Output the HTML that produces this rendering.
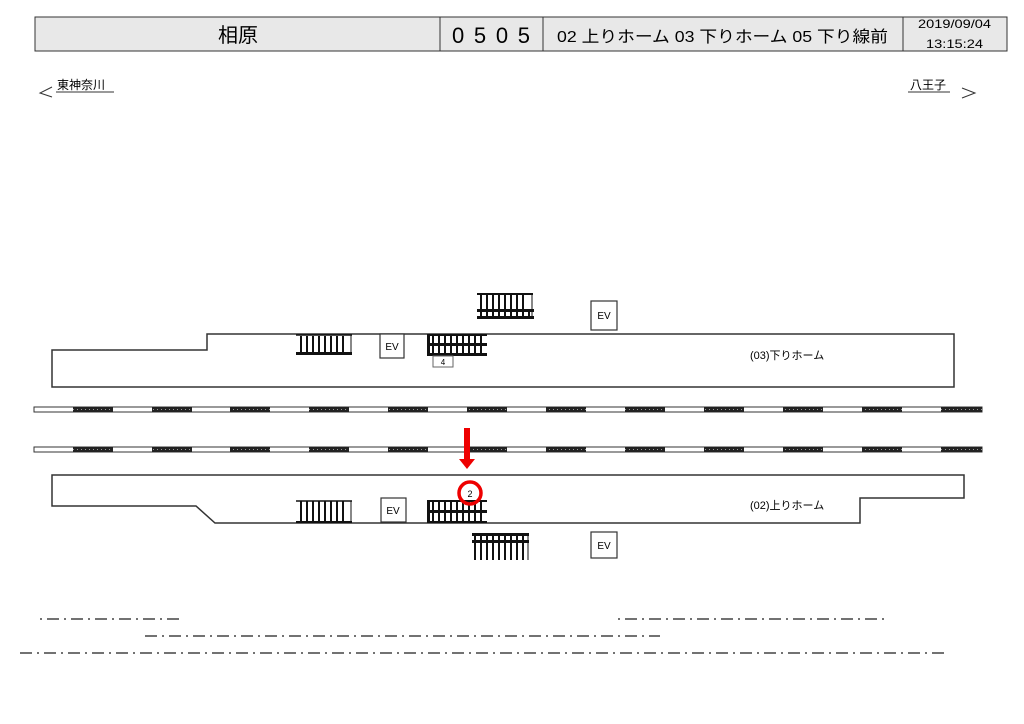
<!DOCTYPE html>
<html><head><meta charset="utf-8"><style>
body{margin:0;background:#fff;width:1024px;height:724px;overflow:hidden}
svg{display:block}
text{font-family:"Liberation Sans","Noto Sans CJK JP",sans-serif}
</style></head><body>
<svg width="1024" height="724" viewBox="0 0 1024 724" xmlns="http://www.w3.org/2000/svg">
<defs>
<pattern id="vb" x="0" y="0" width="6" height="10" patternUnits="userSpaceOnUse"><rect x="0" y="0" width="2" height="10" fill="#111"/></pattern>
<pattern id="dot" width="4" height="4" patternUnits="userSpaceOnUse"><rect width="4" height="4" fill="#222"/><rect x="1" y="1" width="1" height="1" fill="#999"/></pattern>
</defs>
<!-- header -->
<rect x="35" y="17" width="972" height="34" fill="#e8e8e8" stroke="#333" stroke-width="1"/>
<line x1="440" y1="17" x2="440" y2="51" stroke="#333"/>
<line x1="543" y1="17" x2="543" y2="51" stroke="#333"/>
<line x1="903" y1="17" x2="903" y2="51" stroke="#333"/>
<text x="238" y="42" font-size="20" text-anchor="middle">相原</text>
<text x="452" y="43" font-size="22" textLength="78" lengthAdjust="spacing">0505</text>
<text x="557" y="42" font-size="16" textLength="331" lengthAdjust="spacingAndGlyphs">02 上りホーム 03 下りホーム 05 下り線前</text>
<text x="918" y="28" font-size="12" textLength="73" lengthAdjust="spacingAndGlyphs">2019/09/04</text>
<text x="926" y="48" font-size="12" textLength="57" lengthAdjust="spacingAndGlyphs">13:15:24</text>
<!-- direction -->
<text x="57" y="89" font-size="12">東神奈川</text>
<line x1="56" y1="92" x2="114" y2="92" stroke="#333"/>
<polyline points="52,87 40,93 52,97" fill="none" stroke="#333"/>
<text x="910" y="89" font-size="12">八王子</text>
<line x1="908" y1="92" x2="950" y2="92" stroke="#333"/>
<polyline points="962,88 975,93 962,98" fill="none" stroke="#333"/>
<!-- platforms -->
<polygon points="52,350 207,350 207,334 954,334 954,387 52,387" fill="none" stroke="#333" stroke-width="1.5"/>
<polygon points="52,475 964,475 964,498 860,498 860,523 215,523 196,506 52,506" fill="none" stroke="#333" stroke-width="1.5"/>
<text x="750" y="359" font-size="11">(03)下りホーム</text>
<text x="750" y="509" font-size="11">(02)上りホーム</text>
<!-- tracks -->
<g stroke="#333" stroke-width="1">
<rect x="34" y="407" width="948" height="5" fill="#fff"/>
<rect x="34" y="447" width="948" height="5" fill="#fff"/>
</g>
<g fill="url(#dot)">
<rect x="73" y="407" width="40" height="5"/><rect x="152" y="407" width="40" height="5"/><rect x="230" y="407" width="40" height="5"/><rect x="309" y="407" width="40" height="5"/><rect x="388" y="407" width="40" height="5"/><rect x="467" y="407" width="40" height="5"/><rect x="546" y="407" width="40" height="5"/><rect x="625" y="407" width="40" height="5"/><rect x="704" y="407" width="40" height="5"/><rect x="783" y="407" width="40" height="5"/><rect x="862" y="407" width="40" height="5"/><rect x="941" y="407" width="41" height="5"/>
<rect x="73" y="447" width="40" height="5"/><rect x="152" y="447" width="40" height="5"/><rect x="230" y="447" width="40" height="5"/><rect x="309" y="447" width="40" height="5"/><rect x="388" y="447" width="40" height="5"/><rect x="467" y="447" width="40" height="5"/><rect x="546" y="447" width="40" height="5"/><rect x="625" y="447" width="40" height="5"/><rect x="704" y="447" width="40" height="5"/><rect x="783" y="447" width="40" height="5"/><rect x="862" y="447" width="40" height="5"/><rect x="941" y="447" width="41" height="5"/>
</g>
<!-- upper stairs -->
<rect x="298" y="336" width="48" height="18" fill="url(#vb)"/>
<rect x="296" y="352" width="56" height="3" fill="#111"/>
<line x1="296" y1="335" x2="352" y2="335" stroke="#111" stroke-width="1.5"/>
<line x1="351" y1="335" x2="351" y2="355" stroke="#111"/>
<rect x="479" y="294" width="48" height="16" fill="url(#vb)"/>
<line x1="477" y1="294" x2="533" y2="294" stroke="#111" stroke-width="2"/>
<line x1="532" y1="294" x2="532" y2="318" stroke="#111"/>
<rect x="477" y="309" width="57" height="3" fill="#111"/>
<rect x="479" y="311" width="52" height="5" fill="url(#vb)"/>
<rect x="477" y="316" width="57" height="3" fill="#111"/>
<!-- upper escalator -->
<rect x="427" y="334" width="3" height="22" fill="#111"/>
<rect x="430" y="336" width="56" height="20" fill="url(#vb)"/>
<rect x="427" y="334" width="60" height="2" fill="#111"/>
<rect x="427" y="343" width="60" height="3" fill="#111"/>
<rect x="427" y="353" width="60" height="3" fill="#111"/>
<rect x="433" y="356" width="20" height="11" fill="#fff" stroke="#666"/>
<text x="443" y="365" font-size="8" text-anchor="middle">4</text>
<!-- EV boxes -->
<g fill="#fff" stroke="#333" stroke-width="1.2">
<rect x="380" y="334" width="24" height="24"/>
<rect x="591" y="301" width="26" height="29"/>
<rect x="381" y="498" width="25" height="24"/>
<rect x="591" y="532" width="26" height="26"/>
</g>
<g font-size="10" text-anchor="middle">
<text x="392" y="350">EV</text><text x="604" y="319">EV</text>
<text x="393" y="514">EV</text><text x="604" y="549">EV</text>
</g>
<!-- lower stairs -->
<rect x="298" y="501" width="48" height="21" fill="url(#vb)"/>
<line x1="296" y1="501" x2="352" y2="501" stroke="#111" stroke-width="1.5"/>
<line x1="351" y1="501" x2="351" y2="523" stroke="#111"/>
<rect x="296" y="521" width="56" height="2" fill="#111"/>
<rect x="427" y="500" width="3" height="23" fill="#111"/>
<rect x="430" y="501" width="56" height="22" fill="url(#vb)"/>
<rect x="427" y="500" width="60" height="2" fill="#111"/>
<rect x="427" y="510" width="60" height="3" fill="#111"/>
<rect x="427" y="521" width="60" height="2" fill="#111"/>
<rect x="472" y="533" width="57" height="3" fill="#111"/>
<rect x="474" y="536" width="50" height="5" fill="url(#vb)"/>
<rect x="472" y="540" width="57" height="3" fill="#111"/>
<rect x="474" y="543" width="50" height="17" fill="url(#vb)"/>
<line x1="528" y1="533" x2="528" y2="560" stroke="#111"/>
<!-- marker -->
<rect x="457" y="485" width="26" height="11" fill="#fff"/>
<text x="470" y="497" font-size="9" text-anchor="middle">2</text>
<circle cx="470" cy="493" r="11" fill="none" stroke="#e00" stroke-width="3.5"/>
<rect x="464" y="428" width="6" height="32" fill="#e00"/>
<polygon points="459,459 475,459 467,469" fill="#e00"/>
<!-- dash-dot lines -->
<g stroke="#444" stroke-width="1.5" fill="none" stroke-dasharray="12,5,2,5">
<line x1="40" y1="619" x2="183" y2="619" stroke-dasharray="2,5,12,5"/>
<line x1="145" y1="636" x2="660" y2="636"/>
<line x1="20" y1="653" x2="948" y2="653"/>
<line x1="618" y1="619" x2="885" y2="619" stroke-dasharray="2,5,12,5"/>
</g>
</svg>
</body></html>
